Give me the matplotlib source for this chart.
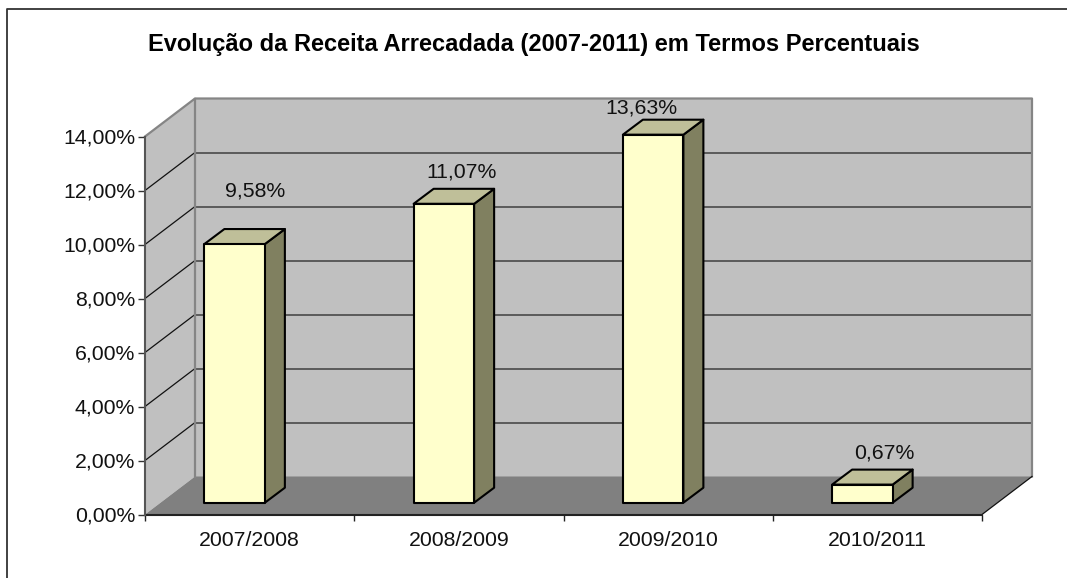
import matplotlib
matplotlib.use("Agg")
import matplotlib.pyplot as plt
from matplotlib.lines import Line2D
from matplotlib.patches import Polygon

plt.rcParams['font.family'] = ['Liberation Sans', 'DejaVu Sans']

categories = ['2007/2008', '2008/2009', '2009/2010', '2010/2011']
values = [9.58, 11.07, 13.63, 0.67]
value_labels = ['9,58%', '11,07%', '13,63%', '0,67%']
y_ticks = [0, 2, 4, 6, 8, 10, 12, 14]
y_tick_labels = ['0,00%', '2,00%', '4,00%', '6,00%', '8,00%', '10,00%', '12,00%', '14,00%']

W, H = 1067, 578
fig = plt.figure(figsize=(W / 100, H / 100), dpi=100, facecolor='white')

# chart frame (in figure pixels)
L, R, T, B = 145, 982, 136.5, 514.5
ax = fig.add_axes([L / W, 1 - B / H, (R - L) / W, (B - T) / H])
ax.set_xlim(-0.5, 3.5)
ax.set_ylim(0, 14)
ax.patch.set_visible(False)
for s in ax.spines.values():
    s.set_visible(False)

PX = 4 / (R - L)          # data units per pixel, x
PY = 14 / (B - T)         # data units per pixel, y
DX, DY = 50 * PX, 38 * PY # depth of the 3-D box

def poly(pts, fc, ec='none', lw=0, z=1):
    ax.add_patch(Polygon(pts, closed=True, facecolor=fc, edgecolor=ec,
                         linewidth=lw, zorder=z, clip_on=False, joinstyle='round'))

x0, x1 = -0.5, 3.5
# back wall, side wall, floor
poly([(x0 + DX, DY), (x1 + DX, DY), (x1 + DX, 14 + DY), (x0 + DX, 14 + DY)], '#c0c0c0', z=1)
poly([(x0, 0), (x0 + DX, DY), (x0 + DX, 14 + DY), (x0, 14)], '#c0c0c0', z=1)
poly([(x0, 0), (x1, 0), (x1 + DX, DY), (x0 + DX, DY)], '#808080', z=1)

# gridlines
for t in y_ticks[1:-1]:
    ax.plot([x0 + DX, x1 + DX], [t + DY, t + DY], color='#4a4a4a', lw=1.2, zorder=2, clip_on=False)
    ax.plot([x0, x0 + DX], [t, t + DY], color='#111111', lw=0.9, zorder=2, clip_on=False)

# wall edges
edge = '#858585'
ax.plot([x0, x0 + DX, x1 + DX, x1 + DX], [14, 14 + DY, 14 + DY, DY], color=edge, lw=1.6, zorder=2, clip_on=False)
ax.plot([x0 + DX, x0 + DX], [DY, 14 + DY], color=edge, lw=1.6, zorder=2, clip_on=False)
ax.plot([x1, x1 + DX], [0, DY], color='#111111', lw=0.9, zorder=2, clip_on=False)

# bars
bx_off, bw = -15 * PX, 60.5 * PX
by = 11.8 * PY
ddx, ddy = 20 * PX, 15 * PY
label_off = [(20, 53), (18, 32), (-12, 27), (22, 32)]
for i, v in enumerate(values):
    l = i + bx_off - bw / 2
    r = l + bw
    b, t = by, by + v
    poly([(r, b), (r + ddx, b + ddy), (r + ddx, t + ddy), (r, t)], '#808060', 'black', 1.5, 5)
    poly([(l, t), (r, t), (r + ddx, t + ddy), (l + ddx, t + ddy)], '#bfbf99', 'black', 1.5, 5)
    poly([(l, b), (r, b), (r, t), (l, t)], '#ffffcc', 'black', 1.5, 6)
    ox, oy = label_off[i]
    ax.text((l + r) / 2 + ox * PX, t + oy * PY, value_labels[i], ha='center', va='center',
            fontsize=15.3, color='#111111', zorder=7)

# axes lines, ticks
ax.plot([x0, x1], [0, 0], color='#222222', lw=1.5, zorder=4, clip_on=False)
ax.plot([x0, x0], [0, 14], color='#555555', lw=1.5, zorder=4, clip_on=False)
ax.set_xticks([-0.5, 0.5, 1.5, 2.5, 3.5])
ax.set_xticklabels([])
ax.set_xticks(range(4), categories, minor=True)
ax.tick_params(axis='x', which='major', length=4.5, width=1, color='#222222')
ax.tick_params(axis='x', which='minor', length=0, pad=12.2, labelsize=15.3, labelcolor='#111111')
ax.set_yticks(y_ticks, y_tick_labels)
ax.tick_params(axis='y', length=5, width=1, color='#333333', pad=2, labelsize=15.3, labelcolor='#111111')

# title
fig.text(533.5 / W, 1 - 44.5 / H, 'Evolução da Receita Arrecadada (2007-2011) em Termos Percentuais',
         ha='center', va='center', fontsize=17, fontweight='bold', color='black')

# outer frame: left and top edges only, the others fall outside the crop
fig.add_artist(Line2D([6.7 / W, 6.7 / W, 1.01], [-0.01, 1 - 9 / H, 1 - 9 / H],
                      transform=fig.transFigure, color='#333333', linewidth=1.3))

fig.savefig('out.png', dpi=100)
